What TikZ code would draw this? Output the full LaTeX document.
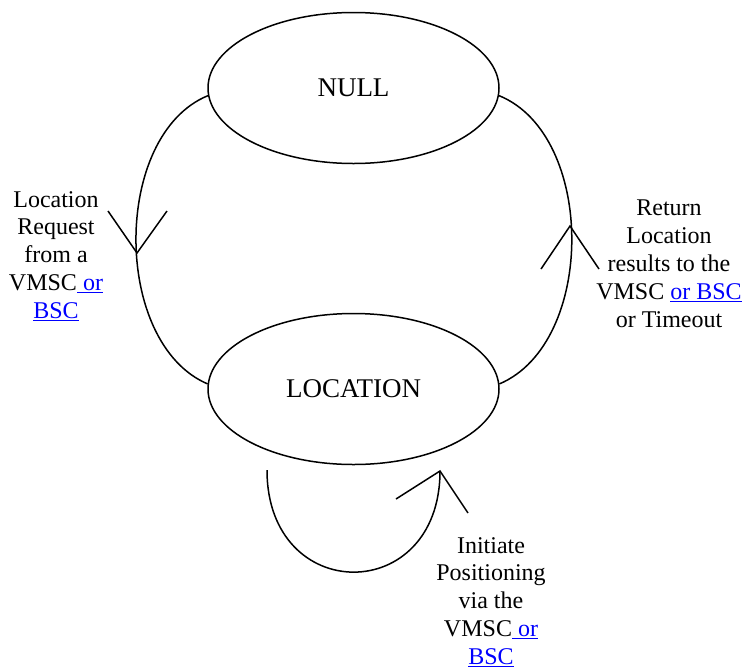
\documentclass[tikz,border=0pt]{standalone}
\usepackage{fontspec}
\setmainfont{Liberation Serif}
\usetikzlibrary{shapes.geometric}
\definecolor{linkblue}{RGB}{0,0,255}
\newcommand{\lnk}[1]{\textcolor{linkblue}{\underline{#1}}}
\begin{document}
\begin{tikzpicture}[x=1pt,y=-1pt,
  state/.style={draw,ellipse,line width=1.5pt,minimum width=291pt,minimum height=151pt,inner sep=0pt,font=\fontsize{27}{31}\selectfont},
  conn/.style={line width=1.5pt},
  lbl/.style={align=center,inner sep=0pt,anchor=north,font=\fontsize{24}{27.8}\selectfont}]
\useasboundingbox (0,0) rectangle (744,670);
\node[state] (null) at (353.5,88) {NULL};
\node[state] (loc) at (353.5,389) {LOCATION};
% left transition
\draw[conn] (null.183) .. controls (112,135) and (112,343) .. (loc.178);
\coordinate (lt) at (137,253);
\coordinate (la1) at (108,211);
\coordinate (la2) at (167,211);
\draw[conn] (la1) -- (lt) -- (la2);
% right transition
\draw[conn] (loc.2) .. controls (596,343) and (596,135) .. (null.357);
\coordinate (rt) at (570,226);
\coordinate (ra1) at (541,269);
\coordinate (ra2) at (599,269);
\draw[conn] (ra1) -- (rt) -- (ra2);
% self loop
\coordinate (ss) at (267,470);
\coordinate (se) at (440,471);
\draw[conn] (ss) .. controls (267,606) and (440,606) .. (se);
\coordinate (sa1) at (396,499);
\coordinate (sa2) at (468,513);
\draw[conn] (sa1) -- (se) -- (sa2);
% labels
\node[lbl] (ltxt) at (56,191) {Location\\Request\\from a\\VMSC\lnk{\ or}\\\lnk{BSC}};
\node[lbl] (rtxt) at (669,200) {Return\\Location\\results to the\\VMSC \lnk{or BSC}\\or Timeout};
\node[lbl] (btxt) at (491,537) {Initiate\\Positioning\\via the\\VMSC\lnk{\ or}\\\lnk{BSC}};
\end{tikzpicture}
\end{document}
